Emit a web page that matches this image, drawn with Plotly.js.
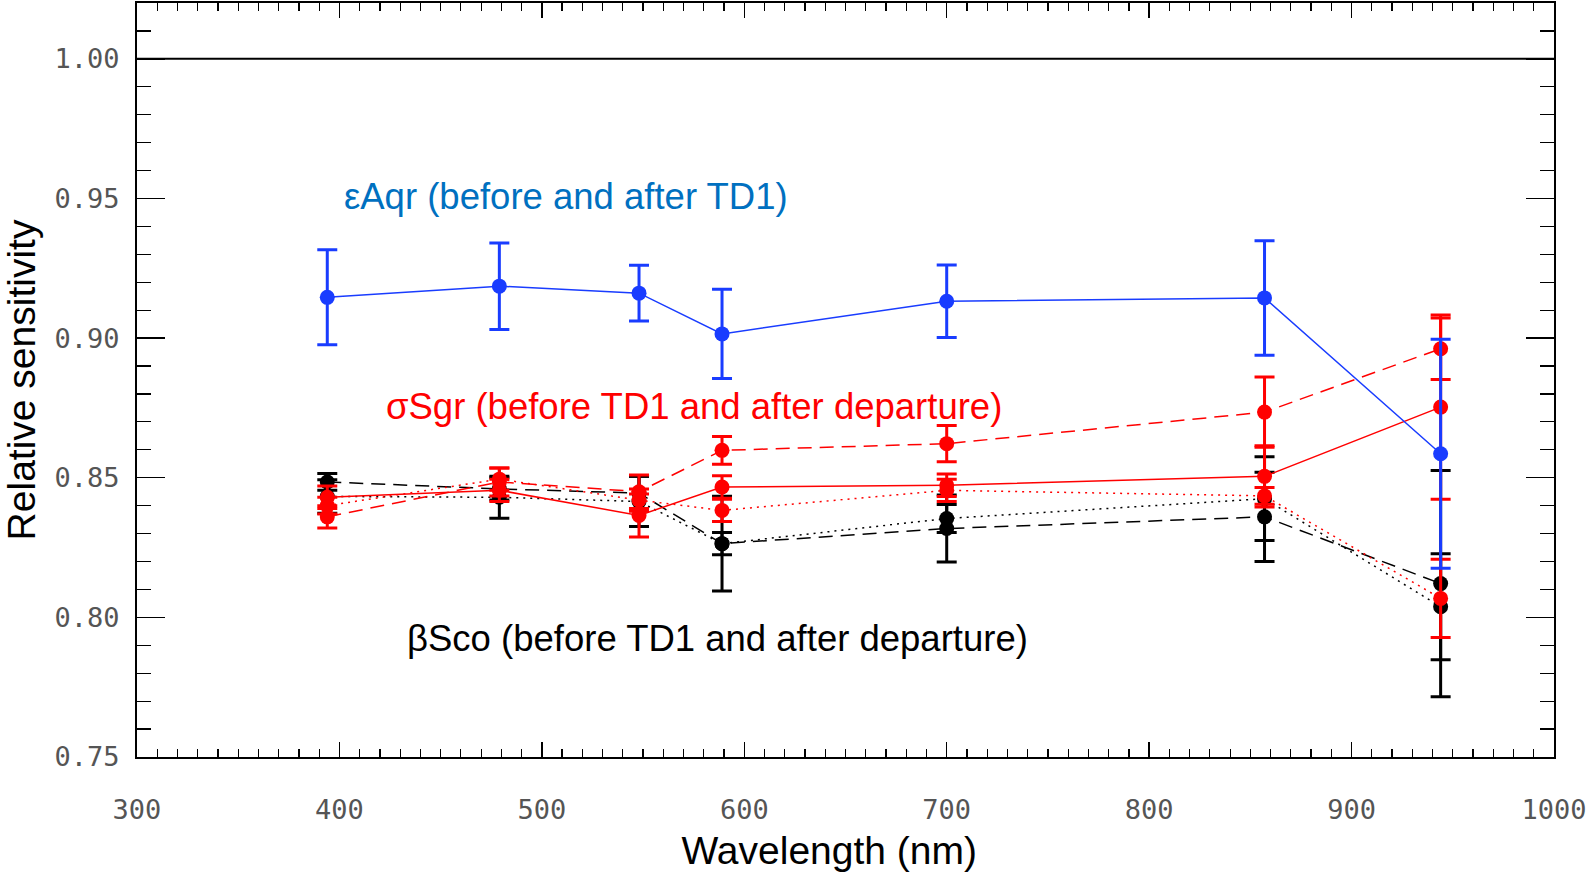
<!DOCTYPE html>
<html>
<head>
<meta charset="utf-8">
<script src="https://cdn.plot.ly/plotly-3.0.1.min.js"></script>
<style>html,body{margin:0;padding:0;background:#fff;}#chart{width:1593px;height:876px;}</style>
</head>
<body>
<div id="chart"></div>
<script>
// Wavelengths (nm)
const wavelength = [394, 479, 548, 589, 700, 857, 944];

// εAqr (before and after TD1)
const epsAqr = [0.9146, 0.9186, 0.9161, 0.9015, 0.9132, 0.9144, 0.8586];
const epsAqrErr = [0.017, 0.0155, 0.010, 0.016, 0.013, 0.0205, 0.041];

// σSgr (three measurements)
const sigSgrSolid = [0.843, 0.8455, 0.8365, 0.8467, 0.8473, 0.8505, 0.8753];
const sigSgrSolidErr = [0.004, 0.004, 0.0077, 0.004, 0.004, 0.011, 0.033];
const sigSgrDash = [0.836, 0.8485, 0.845, 0.8598, 0.8622, 0.8735, 0.8962];
const sigSgrDashErr = [0.004, 0.005, 0.006, 0.005, 0.0065, 0.0126, 0.011];
const sigSgrDot = [0.840, 0.8495, 0.842, 0.8383, 0.8455, 0.8435, 0.8068];
const sigSgrDotErr = [0.003, 0.004, 0.004, 0.004, 0.004, 0.003, 0.014];

// βSco (two measurements)
const betScoDash = [0.8485, 0.846, 0.8445, 0.8264, 0.8318, 0.836, 0.8121];
const betScoDashErr = [0.003, 0.004, 0.006, 0.017, 0.012, 0.016, 0.0405];
const betScoDot = [0.8433, 0.843, 0.8415, 0.8264, 0.8354, 0.8425, 0.8038];
const betScoDotErr = [0.006, 0.0075, 0.009, 0.004, 0.005, 0.015, 0.019];

// Labels
const labelAqr = "εAqr (before and after TD1)";
const labelSgr = "σSgr (before TD1 and after departure)";
const labelSco = "βSco (before TD1 and after departure)";

function series(y, err, color, dash, name) {
  return {
    x: wavelength, y: y, type: 'scatter', mode: 'lines+markers', name: name,
    line: {color: color, width: 1.5, dash: dash},
    marker: {color: color, size: 15, symbol: 'circle'},
    error_y: {type: 'data', array: err, visible: true, color: color, thickness: 3, width: 10},
    showlegend: false, hoverinfo: 'x+y'
  };
}

const BLUE = 'rgb(25,60,255)';
const RED = 'rgb(255,0,0)';
const BLACK = 'rgb(0,0,0)';

const traces = [
  series(betScoDash, betScoDashErr, BLACK, '14px,8px', 'βSco dashed'),
  series(betScoDot, betScoDotErr, BLACK, '2px,5px', 'βSco dotted'),
  series(sigSgrDot, sigSgrDotErr, RED, '2px,5px', 'σSgr dotted'),
  series(sigSgrDash, sigSgrDashErr, RED, '14px,8px', 'σSgr dashed'),
  series(sigSgrSolid, sigSgrSolidErr, RED, 'solid', 'σSgr solid'),
  series(epsAqr, epsAqrErr, BLUE, 'solid', 'εAqr')
];

const tickFont = {family: '"DejaVu Sans Mono", monospace', size: 27, color: '#555'};
const titleFont = {family: '"Liberation Sans", Arial, sans-serif', size: 39, color: '#000'};

const layout = {
  width: 1593, height: 876,
  margin: {l: 137, r: 39, t: 3, b: 119, pad: 0},
  paper_bgcolor: '#fff', plot_bgcolor: '#fff',
  xaxis: {
    range: [300, 1000], dtick: 100, tick0: 300,
    ticks: 'inside', ticklen: 15, tickwidth: 1.5, tickcolor: '#000',
    minor: {dtick: 10, ticks: 'inside', ticklen: 8, tickwidth: 1.2, tickcolor: '#000'},
    mirror: 'allticks', showline: true, linecolor: '#000', linewidth: 2,
    showgrid: false, zeroline: false,
    tickfont: tickFont, ticklabelstandoff: 28,
    title: {text: 'Wavelength (nm)&nbsp;&nbsp;&nbsp;', font: titleFont, standoff: 12}
  },
  yaxis: {
    range: [0.75, 1.02], dtick: 0.05, tick0: 0.75, tickformat: '.2f',
    ticks: 'inside', ticklen: 28, tickwidth: 1.5, tickcolor: '#000',
    minor: {dtick: 0.01, ticks: 'inside', ticklen: 14, tickwidth: 1.2, tickcolor: '#000'},
    mirror: 'allticks', showline: true, linecolor: '#000', linewidth: 2,
    showgrid: false, zeroline: false,
    tickfont: tickFont, ticklabelstandoff: 10,
    title: {text: 'Relative sensitivity', font: titleFont, standoff: 20}
  },
  shapes: [
    {type: 'line', xref: 'paper', x0: 0, x1: 1, yref: 'y', y0: 1.0, y1: 1.0, line: {color: '#000', width: 2}}
  ],
  annotations: [
    {text: labelAqr, x: 512, y: 0.9506, xref: 'x', yref: 'y', showarrow: false,
     font: {family: '"Liberation Sans", Arial, sans-serif', size: 36.5, color: 'rgb(0,112,192)'}},
    {text: labelSgr, x: 575, y: 0.8755, xref: 'x', yref: 'y', showarrow: false,
     font: {family: '"Liberation Sans", Arial, sans-serif', size: 36.5, color: 'rgb(255,0,0)'}},
    {text: labelSco, x: 587, y: 0.7926, xref: 'x', yref: 'y', showarrow: false,
     font: {family: '"Liberation Sans", Arial, sans-serif', size: 36.5, color: '#000'}}
  ]
};

Plotly.newPlot('chart', traces, layout, {staticPlot: true, displayModeBar: false});
</script>
</body>
</html>
